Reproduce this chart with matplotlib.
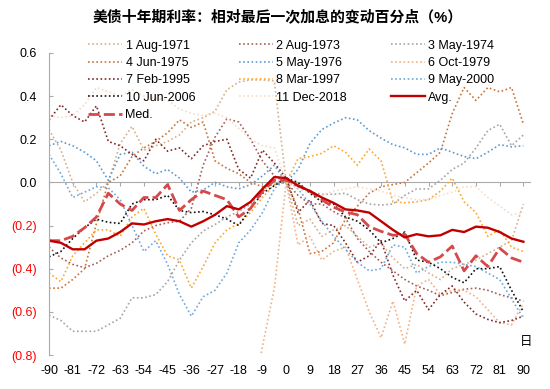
import numpy as np
import matplotlib
matplotlib.use("Agg")
import matplotlib.pyplot as plt
from matplotlib.ticker import FixedLocator, FuncFormatter

plt.rcParams['font.family'] = ['Liberation Sans', 'Noto Sans CJK SC', 'DejaVu Sans']
plt.rcParams['axes.unicode_minus'] = False

# 相对最后一次加息日的交易日
days = [-90, -85.5, -81, -76.5, -72, -67.5, -63, -58.5, -54, -49.5, -45,
        -40.5, -36, -31.5, -27, -22.5, -18, -13.5, -9, -4.5, 0,
        4.5, 9, 13.5, 18, 22.5, 27, 31.5, 36, 40.5, 45,
        49.5, 54, 58.5, 63, 67.5, 72, 76.5, 81, 85.5, 90]

aug_1971 = [0.245, 0.15, 0.0, -0.09, -0.05, 0.0, 0.18, 0.26, 0.15, 0.17, 0.19,
            0.22, 0.28, 0.30, 0.33, 0.43, 0.465, 0.475, 0.475, 0.47, 0.0,
            -0.20, -0.17, -0.25, -0.22, -0.20, -0.25, -0.30, -0.28, -0.35, -0.40,
            -0.38, -0.42, -0.45, -0.40, -0.38, -0.36, -0.33, -0.30, -0.27, -0.10]
aug_1973 = [-0.30, -0.35, -0.38, -0.395, -0.375, -0.34, -0.315, -0.28, -0.225, -0.20, -0.187,
            -0.18, -0.12, 0.08, 0.21, 0.295, 0.28, 0.20, 0.10, 0.03, 0.0,
            -0.06, -0.10, -0.10, -0.135, -0.165, -0.26, -0.32, -0.37, -0.41, -0.45,
            -0.48, -0.50, -0.525, -0.51, -0.495, -0.49, -0.50, -0.52, -0.535, -0.55]
may_1974 = [-0.615, -0.64, -0.69, -0.69, -0.69, -0.66, -0.63, -0.535, -0.535, -0.52, -0.46,
            -0.36, -0.28, -0.225, -0.195, -0.16, -0.135, -0.10, -0.04, 0.01, 0.0,
            -0.02, -0.045, -0.055, -0.055, -0.05, -0.08, -0.10, -0.105, -0.10, -0.06,
            -0.03, -0.03, 0.01, 0.06, 0.09, 0.16, 0.24, 0.27, 0.17, 0.22]
jun_1975 = [-0.49, -0.49, -0.45, -0.40, -0.19, 0.0, 0.03, 0.12, 0.16, 0.19, 0.23,
            0.29, 0.255, 0.28, 0.10, 0.065, 0.04, 0.0, -0.02, -0.01, 0.0,
            -0.12, -0.33, -0.32, -0.28, -0.17, -0.11, -0.05, -0.02, -0.01, 0.0,
            0.045, 0.09, 0.14, 0.32, 0.44, 0.38, 0.44, 0.42, 0.44, 0.27]
may_1976 = [0.17, 0.19, 0.17, 0.14, 0.10, 0.01, 0.13, 0.14, 0.075, 0.04, 0.06,
            0.02, -0.045, -0.035, 0.0, -0.02, -0.03, -0.01, 0.03, 0.08, 0.0,
            0.06, 0.18, 0.245, 0.275, 0.30, 0.29, 0.24, 0.205, 0.175, 0.16,
            0.13, 0.13, 0.16, 0.14, 0.12, 0.11, 0.14, 0.175, 0.165, 0.17]
oct_1979 = [None, None, None, None, None, None, None, None, None, None, None,
            None, None, None, None, None, None, -1.05, -0.76, -0.49, 0.0,
            -0.29, -0.25, -0.36, -0.32, -0.30, -0.45, -0.60, -0.72, -0.55, -0.75,
            -0.48, -0.45, -0.52, -0.50, -0.50, -0.53, -0.59, -0.65, -0.66, -0.56]
feb_1995 = [0.29, 0.36, 0.31, 0.28, 0.355, 0.19, 0.17, 0.13, 0.10, 0.20, 0.145,
            0.16, 0.11, 0.17, 0.19, 0.20, 0.06, 0.02, 0.15, 0.09, 0.02,
            -0.14, -0.08, -0.19, -0.20, -0.28, -0.37, -0.34, -0.27, -0.43, -0.55,
            -0.50, -0.59, -0.52, -0.48, -0.555, -0.61, -0.635, -0.65, -0.64, -0.62]
mar_1997 = [-0.42, -0.46, -0.34, -0.28, -0.22, -0.22, -0.25, -0.16, -0.12, -0.24, -0.34,
            -0.36, -0.49, -0.39, -0.28, -0.22, -0.19, -0.14, -0.07, -0.01, 0.0,
            0.11, 0.12, 0.135, 0.17, 0.14, 0.08, 0.155, 0.10, -0.09, -0.094,
            -0.09, -0.08, -0.04, 0.02, -0.09, -0.14, -0.25, -0.22, -0.30, -0.32]
may_2000 = [0.13, 0.04, -0.07, -0.045, -0.02, -0.025, -0.08, -0.20, -0.32, -0.27, -0.38,
            -0.52, -0.62, -0.53, -0.50, -0.42, -0.28, -0.22, -0.14, -0.03, 0.02,
            -0.03, -0.10, -0.18, -0.25, -0.31, -0.37, -0.41, -0.40, -0.29, -0.30,
            -0.42, -0.39, -0.37, -0.37, -0.38, -0.39, -0.42, -0.45, -0.54, -0.63]
jun_2006 = [-0.345, -0.32, -0.26, -0.21, -0.17, -0.185, -0.19, -0.10, -0.08, -0.08, -0.06,
            -0.13, -0.14, -0.135, -0.15, -0.17, -0.20, -0.12, -0.05, -0.015, 0.02,
            0.0, -0.05, -0.09, -0.10, -0.16, -0.18, -0.22, -0.28, -0.26, -0.23,
            -0.36, -0.37, -0.40, -0.44, -0.465, -0.40, -0.40, -0.39, -0.50, -0.60]
dec_2018 = [0.31, 0.30, 0.31, 0.36, 0.44, 0.42, 0.40, 0.43, 0.40, 0.39, 0.38,
            0.34, 0.32, 0.31, 0.32, 0.30, 0.25, 0.20, 0.17, 0.16, 0.0,
            -0.03, -0.05, -0.06, -0.04, -0.03, -0.02, -0.03, -0.04, -0.06, -0.07,
            -0.08, -0.08, -0.06, -0.045, -0.02, -0.02, -0.07, -0.11, -0.15, -0.14]
avg = [-0.27, -0.28, -0.31, -0.31, -0.27, -0.26, -0.23, -0.19, -0.195, -0.18, -0.17,
       -0.18, -0.205, -0.18, -0.15, -0.11, -0.125, -0.09, -0.03, 0.025, 0.02,
       -0.015, -0.04, -0.07, -0.095, -0.125, -0.13, -0.14, -0.18, -0.22, -0.255,
       -0.24, -0.25, -0.245, -0.22, -0.23, -0.205, -0.21, -0.23, -0.26, -0.275]
med = [-0.27, -0.27, -0.25, -0.21, -0.16, -0.05, -0.10, -0.13, -0.07, -0.07, -0.01,
       -0.13, -0.08, -0.04, -0.06, -0.08, -0.16, -0.12, -0.04, 0.01, 0.01,
       -0.015, -0.04, -0.08, -0.115, -0.137, -0.15, -0.205, -0.227, -0.245, -0.24,
       -0.33, -0.37, -0.345, -0.295, -0.41, -0.34, -0.39, -0.305, -0.35, -0.37]

cycles = [
    ('1 Aug-1971', aug_1971, '#D5B18B'),
    ('2 Aug-1973', aug_1973, '#A65E5A'),
    ('3 May-1974', may_1974, '#A5A5A5'),
    ('4 Jun-1975', jun_1975, '#C8743A'),
    ('5 May-1976', may_1976, '#5B9BD5'),
    ('6 Oct-1979', oct_1979, '#F4B183'),
    ('7 Feb-1995', feb_1995, '#7F2A2A'),
    ('8 Mar-1997', mar_1997, '#FFA62B'),
    ('9 May-2000', may_2000, '#6FA8DC'),
    ('10 Jun-2006', jun_2006, '#111111'),
    ('11 Dec-2018', dec_2018, '#F2DDCB'),
]

x_ticks = [-90, -81, -72, -63, -54, -45, -36, -27, -18, -9, 0,
           9, 18, 27, 36, 45, 54, 63, 72, 81, 90]
y_ticks = [0.6, 0.4, 0.2, 0.0, -0.2, -0.4, -0.6, -0.8]

fig = plt.figure(figsize=(5.5, 3.89), dpi=100)
ax = fig.add_axes([0.0891, 0.0874, 0.8745, 0.7764])

lines = {}
for name, vals, col in cycles:
    ln, = ax.plot(days, np.array(vals, dtype=float), color=col, lw=1.2,
                  linestyle=(0, (1, 1.5)), label=name)
    lines[name] = ln
ln_med, = ax.plot(days, med, color='#D5494B', lw=2.0, linestyle=(0, (4, 1.5)), label='Med.')
ln_avg, = ax.plot(days, avg, color='#C00000', lw=1.7, label='Avg.')

ax.set_xlim(-90, 92.5)
ax.set_ylim(-0.8, 0.6)

for s in ['top', 'right', 'bottom']:
    ax.spines[s].set_visible(False)
ax.spines['left'].set_color('#AAAAAA')
ax.spines['left'].set_linewidth(0.8)

ax.yaxis.set_major_locator(FixedLocator(y_ticks))
ax.yaxis.set_major_formatter(FuncFormatter(
    lambda v, p: f'{v:.1f}' if v >= -1e-9 else f'({abs(v):.1f})'))
ax.tick_params(axis='y', direction='in', length=3, width=0.8, color='#AAAAAA',
               labelsize=9, pad=9)
for lab, v in zip(ax.get_yticklabels(), y_ticks):
    lab.set_color('#FF0000' if v < 0 else 'black')

ax.xaxis.set_major_locator(FixedLocator(x_ticks))
ax.tick_params(axis='x', length=0, labelsize=9, pad=7)

# 零轴（带刻度）
zero_pos = (0 - (-0.8)) / (0.6 - (-0.8))
sec = ax.secondary_xaxis(zero_pos)
sec.set_xticks(x_ticks)
sec.tick_params(axis='x', direction='in', length=3, width=0.8, color='#AAAAAA',
                labeltop=False, labelbottom=False)
for s in sec.spines.values():
    s.set_color('#AAAAAA')
    s.set_linewidth(0.8)

ax.text(91.2, -0.738, '日', ha='center', va='center', fontsize=9)

fig.text(0.504, 0.956, '美债十年期利率：相对最后一次加息的变动百分点（%）',
         ha='center', va='center', fontsize=10.7, fontweight='bold')

order = ['1 Aug-1971', '4 Jun-1975', '7 Feb-1995', '10 Jun-2006', 'Med.',
         '2 Aug-1973', '5 May-1976', '8 Mar-1997', '11 Dec-2018',
         '3 May-1974', '6 Oct-1979', '9 May-2000', 'Avg.']
lines['Med.'] = ln_med
lines['Avg.'] = ln_avg
fig.legend([lines[k] for k in order], order, loc='upper left',
           bbox_to_anchor=(88 / 550, 1 - 39.5 / 389), ncol=3, frameon=False,
           fontsize=9, handlelength=2.7, handletextpad=0.3, columnspacing=3.5,
           labelspacing=0.43, borderpad=0, borderaxespad=0)

fig.savefig('out.png', dpi=100)
